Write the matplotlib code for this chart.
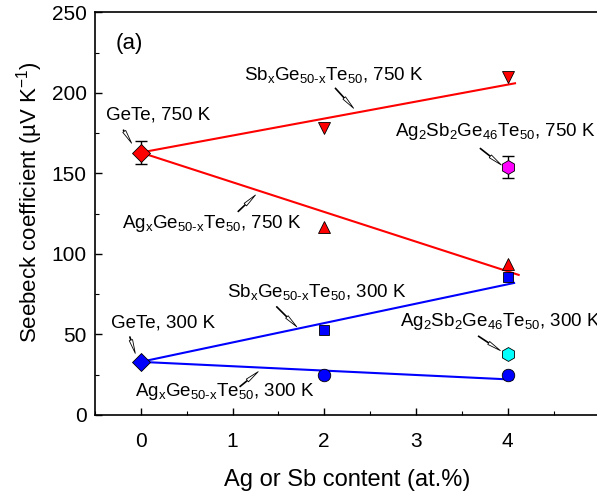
import matplotlib
matplotlib.use("Agg")
import matplotlib.pyplot as plt
from matplotlib.ticker import MultipleLocator

plt.rcParams["font.family"] = ["Liberation Sans", "DejaVu Sans"]
plt.rcParams["mathtext.fontset"] = "custom"
plt.rcParams["mathtext.rm"] = "Liberation Sans"
plt.rcParams["mathtext.it"] = "Liberation Sans"
plt.rcParams["mathtext.default"] = "regular"

# --------------------------------------------------
# Data
# --------------------------------------------------
gete_x = [0]
gete_750 = [163]
gete_750_err = [7]
gete_300 = [33]

dop_x = [2, 4]
sb_750 = [178, 210]
ag_750 = [117, 94]
sb_300 = [53, 86]
ag_300 = [25, 25]

co_x = [4]
co_750 = [154]
co_750_err = [7]
co_300 = [38]

# fitted lines: start / end points
fit_sb_750_x = [0, 4.08]
fit_sb_750_y = [163, 206]
fit_ag_750_x = [0, 4.12]
fit_ag_750_y = [163, 87]
fit_sb_300_x = [0, 4.07]
fit_sb_300_y = [33, 82]
fit_ag_300_x = [0, 4.05]
fit_ag_300_y = [33, 22]

fig = plt.figure(figsize=(5.97, 4.97), dpi=100)
ax = fig.add_axes([0.159, 0.165, 0.845, 0.81])

# fit lines
ax.plot(fit_sb_750_x, fit_sb_750_y, color="red", lw=1.5, zorder=2)
ax.plot(fit_ag_750_x, fit_ag_750_y, color="red", lw=1.5, zorder=2)
ax.plot(fit_sb_300_x, fit_sb_300_y, color="#0000ff", lw=1.5, zorder=2)
ax.plot(fit_ag_300_x, fit_ag_300_y, color="#0000ff", lw=1.5, zorder=2)

# markers
mk = dict(linestyle="none", markeredgecolor="black", markeredgewidth=0.6, zorder=4)
ax.errorbar(gete_x, gete_750, yerr=gete_750_err, fmt="none", ecolor="black",
            elinewidth=1, capsize=4, zorder=3)
ax.plot(gete_x, gete_750, marker="D", markersize=9, color="red", **mk)
ax.plot(gete_x, gete_300, marker="D", markersize=9, color="#0000ff", **mk)
ax.plot(dop_x, sb_750, marker="v", markersize=9, color="red", **mk)
ax.plot(dop_x, ag_750, marker="^", markersize=9, color="red", **mk)
ax.plot(dop_x, sb_300, marker="s", markersize=7.5, color="#0000ff", **mk)
ax.plot(dop_x, ag_300, marker="o", markersize=9, color="#0000ff", **mk)
ax.errorbar(co_x, co_750, yerr=co_750_err, fmt="none", ecolor="black",
            elinewidth=1, capsize=4, zorder=3)
ax.plot(co_x, co_750, marker="h", markersize=10, color="magenta", **mk)
ax.plot(co_x, co_300, marker="h", markersize=10, color="cyan", **mk)

# labels with arrows
arrow = dict(arrowstyle="simple,head_length=1.0,head_width=0.25,tail_width=0.06",
             fc="white", ec="black", lw=0.6, shrinkA=0, shrinkB=0)
fs = 13.5

ax.text(-0.27, 231, "(a)", fontsize=16, va="center")

notes = [
    (r"Sb$_{x}$Ge$_{50\text{-}x}$Te$_{50}$, 750 K", (1.12, 211), (2.12, 203), (2.32, 190.5)),
    ("GeTe, 750 K", (-0.38, 186), (-0.19, 177), (-0.1, 168.8)),
    (r"Ag$_{2}$Sb$_{2}$Ge$_{46}$Te$_{50}$, 750 K", (2.77, 176), (3.70, 165.6), (3.93, 155.3)),
    (r"Ag$_{x}$Ge$_{50\text{-}x}$Te$_{50}$, 750 K", (-0.21, 119), (1.06, 126.3), (1.25, 136.6)),
    (r"Sb$_{x}$Ge$_{50\text{-}x}$Te$_{50}$, 300 K", (0.94, 76.6), (1.48, 67.3), (1.70, 54.8)),
    ("GeTe, 300 K", (-0.32, 57), (-0.12, 48.6), (-0.06, 38.3)),
    (r"Ag$_{2}$Sb$_{2}$Ge$_{46}$Te$_{50}$, 300 K", (2.83, 58), (3.68, 49), (3.92, 40)),
    (r"Ag$_{x}$Ge$_{50\text{-}x}$Te$_{50}$, 300 K", (-0.06, 14.5), (1.08, 17.6), (1.28, 26.9)),
]
for label, pos, tail, tip in notes:
    ax.text(pos[0], pos[1], label, fontsize=fs, va="center", ha="left")
    ax.annotate("", xy=tip, xytext=tail, arrowprops=arrow)

ax.set_xlim(-0.5, 5.0)
ax.set_ylim(0, 250)
ax.xaxis.set_major_locator(MultipleLocator(1))
ax.xaxis.set_minor_locator(MultipleLocator(0.5))
ax.yaxis.set_major_locator(MultipleLocator(50))
ax.yaxis.set_minor_locator(MultipleLocator(25))
ax.set_xticks([0, 1, 2, 3, 4])
ax.tick_params(which="both", direction="in", top=False, right=False, labelsize=15)
ax.tick_params(which="major", length=5, width=1)
ax.tick_params(which="minor", length=3, width=0.8)
ax.tick_params(axis="x", pad=12)
ax.tick_params(axis="y", pad=6)
for sp in ax.spines.values():
    sp.set_linewidth(1.2)

ax.set_xlabel("Ag or Sb content (at.%)", fontsize=17, labelpad=13)
ax.set_ylabel("Seebeck coefficient (\u00b5V K$^{-1}$)", fontsize=16)
ax.yaxis.set_label_coords(-0.099, 0.53)

fig.savefig("out.png", dpi=100)
plt.close(fig)
